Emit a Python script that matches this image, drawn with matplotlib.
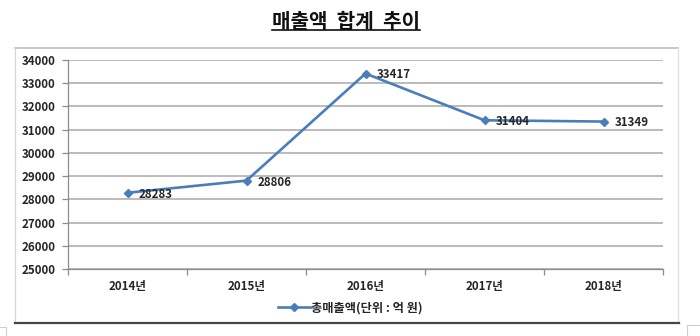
import matplotlib
matplotlib.use("Agg")
import matplotlib.pyplot as plt
from matplotlib.lines import Line2D

plt.rcParams['font.family'] = ['Noto Sans CJK KR', 'DejaVu Sans']

years = ['2014년', '2015년', '2016년', '2017년', '2018년']
sales = [28283, 28806, 33417, 31404, 31349]
y_ticks = [25000, 26000, 27000, 28000, 29000, 30000, 31000, 32000, 33000, 34000]
title = '매출액  합계  추이'
series_name = '총매출액(단위 : 억 원)'

W, H = 700, 336
fig = plt.figure(figsize=(W / 100, H / 100), dpi=100)
fig.patch.set_facecolor('white')

def fx(px):
    return px / W

def fy(py):
    return 1 - py / H

# chart frame
fig.add_artist(Line2D([fx(15), fx(678)], [fy(48), fy(48)], color='#bdbdbd', lw=1.2))
fig.add_artist(Line2D([fx(15), fx(15)], [fy(48), fy(323)], color='#d6d6d6', lw=0.9))
fig.add_artist(Line2D([fx(678), fx(678)], [fy(48), fy(323)], color='#e0e0e0', lw=0.9))
fig.add_artist(Line2D([fx(15), fx(679)], [fy(323), fy(323)], color='#454545', lw=1.6))
# small corner marks below the frame
fig.add_artist(Line2D([fx(0), fx(6), fx(6)], [fy(327), fy(327), fy(336)], color='#cfcfcf', lw=0.8))
fig.add_artist(Line2D([fx(700), fx(687), fx(687)], [fy(325), fy(325), fy(336)], color='#cfcfcf', lw=0.8))

ax = fig.add_axes([fx(68), fy(269), fx(663) - fx(68), fy(60) - fy(269)])
ax.set_facecolor('white')

blue = '#4a7ebb'
text_col = '#262626'
lab_size = 8.3
x = list(range(len(years)))
ax.plot(x, sales, color=blue, lw=1.9, marker='D', markersize=4.5,
        markerfacecolor=blue, markeredgecolor=blue, label=series_name, zorder=3)

for xi, v in zip(x, sales):
    ax.annotate(str(v), (xi, v), xytext=(8, -1), textcoords='offset points',
                ha='left', va='center', fontsize=lab_size, fontweight='semibold',
                color=text_col, zorder=4)

ax.set_xlim(-0.5, len(years) - 0.5)
ax.set_ylim(y_ticks[0], y_ticks[-1])
ax.set_yticks(y_ticks)
ax.set_yticklabels([str(t) for t in y_ticks])
ax.yaxis.grid(True, color='#a8a8a8', lw=1.1)
ax.set_axisbelow(True)

ax.set_xticks(x)
ax.set_xticklabels(years)
ax.set_xticks([i - 0.5 for i in range(len(years) + 1)], minor=True)
ax.tick_params(axis='x', which='major', length=0, pad=8, labelsize=lab_size, labelcolor=text_col)
ax.tick_params(axis='x', which='minor', length=4, width=0.9, color='#8c8c8c', direction='out')
ax.tick_params(axis='y', length=4, width=0.9, color='#8c8c8c', pad=5, labelsize=lab_size, labelcolor=text_col)
for lbl in ax.get_xticklabels() + ax.get_yticklabels():
    lbl.set_fontweight('semibold')

for side in ('top', 'right'):
    ax.spines[side].set_visible(False)
for side in ('left', 'bottom'):
    ax.spines[side].set_color('#8c8c8c')
    ax.spines[side].set_linewidth(0.9)

leg = fig.legend(loc='center', bbox_to_anchor=(fx(350), fy(308)), frameon=False,
                 prop={'size': 8.8, 'weight': 'semibold'}, handlelength=2.6, handletextpad=0.1)
for t in leg.get_texts():
    t.set_color(text_col)

t = fig.text(fx(346), fy(22), title, ha='center', va='center', fontsize=14.5,
             fontweight='bold', color='#111111')
fig.canvas.draw()
bb = t.get_window_extent(fig.canvas.get_renderer())
fig.add_artist(Line2D([bb.x0 / W, bb.x1 / W], [fy(30), fy(30)], color='#111111', lw=1.2))

fig.savefig('out.png', dpi=100, facecolor='white')
